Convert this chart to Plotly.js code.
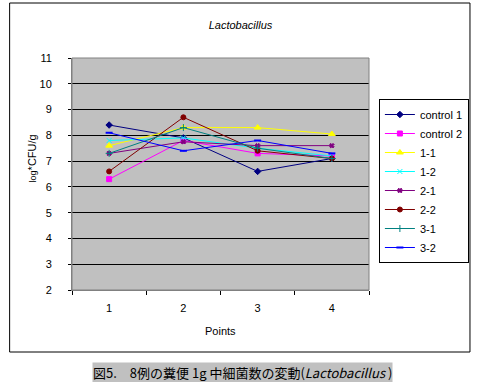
<!DOCTYPE html>
<html>
<head>
<meta charset="utf-8">
<script src="https://cdn.plot.ly/plotly-3.0.1.min.js"></script>
<style>html,body{margin:0;padding:0;background:#fff;}#chart{width:481px;height:382px;}</style>
</head>
<body>
<div id="chart"></div>
<script>
// ---- data ----
const points = ["1", "2", "3", "4"];
const seriesNames = ["control 1", "control 2", "1-1", "1-2", "2-1", "2-2", "3-1", "3-2"];
const control1 = [8.4, 7.9, 6.6, 7.1];
const control2 = [6.3, 7.8, 7.3, 7.2];
const s1_1 = [7.6, 8.3, 8.3, 8.05];
const s1_2 = [7.8, 7.9, 7.5, 7.2];
const s2_1 = [7.3, 7.75, 7.6, 7.6];
const s2_2 = [6.6, 8.7, 7.4, 7.1];
const s3_1 = [7.3, 8.3, 7.5, 7.1];
const s3_2 = [8.1, 7.4, 7.8, 7.3];
const yTicks = [2, 3, 4, 5, 6, 7, 8, 9, 10, 11];

const allValues = [control1, control2, s1_1, s1_2, s2_1, s2_2, s3_1, s3_2];
const colors = ["#000080", "#FF00FF", "#FFFF00", "#00FFFF", "#800080", "#800000", "#008080", "#0000FF"];
const symbols = ["diamond", "square", "triangle-up", "x-thin-open", "x", "circle", "cross-thin-open", "line-ew"];
const sizes = [5, 5, 6, 5, 4, 5, 5, 5];

const traces = allValues.map((v, i) => ({
  x: points, y: v, name: seriesNames[i], type: "scatter", mode: "lines+markers",
  line: {color: colors[i], width: 1},
  marker: {symbol: symbols[i], size: sizes[i], color: colors[i], line: {color: colors[i], width: i === 7 ? 2 : 1}}
}));

const X0 = 72, X1 = 372, Y0 = 58, Y1 = 290;
const px = x => (x - X0) / (X1 - X0);
const py = y => (Y1 - y) / (Y1 - Y0);

const layout = {
  width: 481, height: 382,
  margin: {l: 72, r: 109, t: 58, b: 92, pad: 0},
  paper_bgcolor: "#ffffff", plot_bgcolor: "#c0c0c0",
  font: {family: "Liberation Sans, Arial, sans-serif", size: 11, color: "#000"},
  title: {text: "<i>Lactobacillus</i>", x: 0.5, xref: "container", y: 1 - 25/382, yref: "container", yanchor: "middle", xanchor: "center",
          font: {family: "Liberation Sans, Arial, sans-serif", size: 11, color: "#000"}},
  showlegend: true,
  legend: {x: px(382), y: py(99), xanchor: "left", yanchor: "top", bordercolor: "#000", borderwidth: 1,
           bgcolor: "#fff", font: {size: 11}, tracegroupgap: 0, itemwidth: 30},
  xaxis: {type: "category", range: [-0.5, 3.5], showgrid: false, zeroline: false,
          ticks: "outside", ticklen: 4, tickcolor: "#000", tickson: "boundaries",
          showline: true, linecolor: "#808080", linewidth: 1, fixedrange: true, ticklabelstandoff: 8},
  yaxis: {range: [2, 11], tickvals: yTicks, ticktext: yTicks.map(String), showgrid: true, gridcolor: "#000", gridwidth: 1,
          zeroline: false, ticks: "outside", ticklen: 3, tickcolor: "#000",
          showline: true, linecolor: "#808080", linewidth: 1, ticklabelstandoff: 14},
  shapes: [
    {type: "rect", xref: "paper", yref: "paper", x0: 0, x1: 1, y0: 0, y1: 1, line: {color: "#808080", width: 1}},
    {type: "rect", xref: "paper", yref: "paper", x0: px(9), x1: px(474), y0: py(352), y1: py(3), line: {color: "#000", width: 1}}
  ],
  annotations: [
    {text: "<span style='font-size:9px'>log</span>*CFU/g", xref: "paper", yref: "paper", x: px(32), y: py(158),
     textangle: -90, showarrow: false, xanchor: "center", yanchor: "middle", font: {size: 11}},
    {text: "Points", xref: "paper", yref: "paper", x: 0.5, y: py(331), showarrow: false,
     xanchor: "center", yanchor: "middle", font: {size: 11}},
    {text: "図5.　8例の糞便 1g 中細菌数の変動(<i>Lactobacillus</i> )", xref: "paper", yref: "paper",
     x: px(244), y: py(372), showarrow: false, xanchor: "center", yanchor: "middle", bgcolor: "#c0c0c0", borderpad: 0,
     font: {family: "Noto Sans CJK JP, sans-serif", size: 13, color: "#000"}}
  ]
};

Plotly.newPlot("chart", traces, layout, {displayModeBar: false, staticPlot: true});
</script>
</body>
</html>
